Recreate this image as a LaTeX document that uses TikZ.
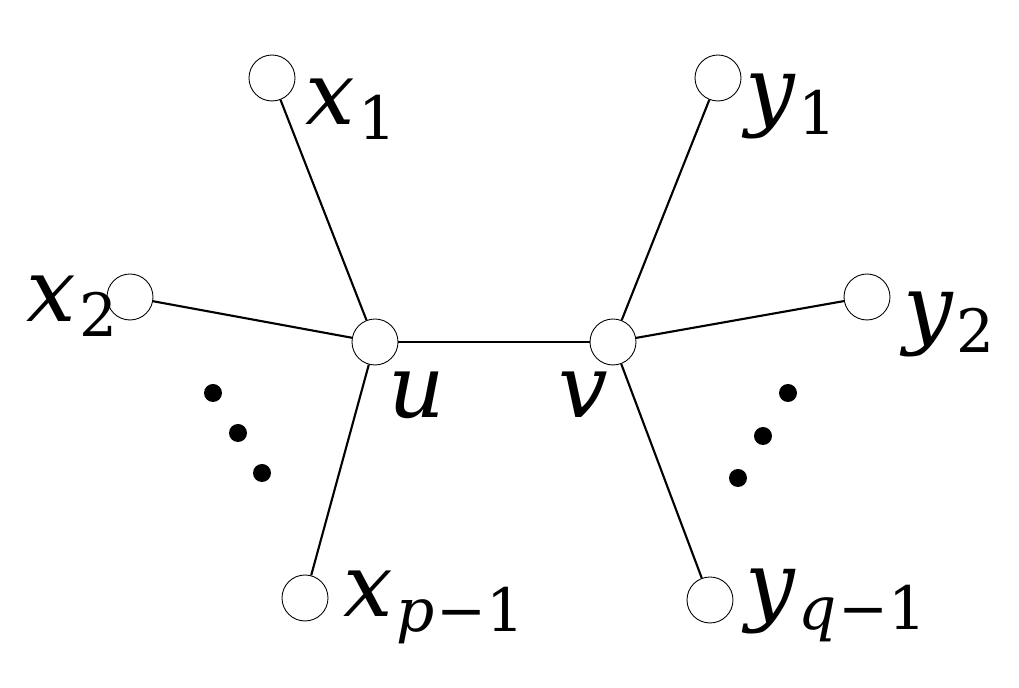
\documentclass[tikz,border=0pt]{standalone}
\usepackage{fontspec}
\newfontfamily\tms{DejaVu Serif}
\newcommand{\lab}[2]{{\tms\fontsize{50}{60}\selectfont\itshape #1}\kern2pt\raisebox{-0.3cm}{\tms\fontsize{34}{44}\selectfont #2}}
\begin{document}
\begin{tikzpicture}[x=0.02cm,y=-0.02cm,
  vert/.style={circle,draw,fill=white,minimum size=0.92cm,inner sep=0pt,line width=0.5pt},
  dot/.style={circle,fill=black,minimum size=0.36cm,inner sep=0pt},
  lbl/.style={anchor=base west,inner sep=0pt,font=\tms}]
\useasboundingbox (0,0) rectangle (1019,688);
\node[vert] (u) at (375,342) {};
\node[vert] (v) at (613,342) {};
\node[vert] (x1) at (272,78) {};
\node[vert] (x2) at (130,297) {};
\node[vert] (xp) at (305,598) {};
\node[vert] (y1) at (718,78) {};
\node[vert] (y2) at (867,297) {};
\node[vert] (yq) at (710,600) {};
\foreach \a/\b in {u/v,u/x1,u/x2,u/xp,v/y1,v/y2,v/yq} \draw[line width=1.2pt] (\a) -- (\b);
\node[dot] (d1) at (213,393) {};
\node[dot] (d2) at (238,433) {};
\node[dot] (d3) at (262,473) {};
\node[dot] (e1) at (788,393) {};
\node[dot] (e2) at (763,436) {};
\node[dot] (e3) at (738,478) {};
\node[lbl] (lx1) at (305,125) {\lab{x}{1}};
\node[lbl] (lx2) at (26,322) {\lab{x}{2}};
\node[lbl] (lu) at (388,418) {{\fontsize{50}{60}\selectfont\itshape u}};
\node[lbl] (lv) at (558,418) {{\fontsize{50}{60}\selectfont\itshape v}};
\node[lbl] (ly1) at (745,120) {\lab{y}{1}};
\node[lbl] (ly2) at (903,338) {\lab{y}{2}};
\node[lbl] (lxp) at (343,617) {\lab{x}{\textit{p}\kern1pt−1}};
\node[lbl] (lyq) at (745,615) {\lab{y}{\textit{q}\kern1pt−1}};
\end{tikzpicture}
\end{document}
